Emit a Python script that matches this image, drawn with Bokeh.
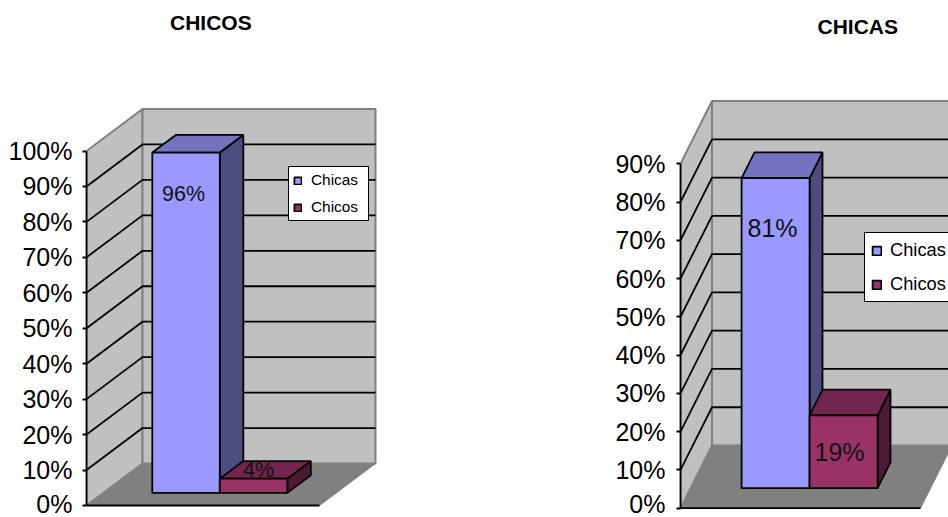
from bokeh.embed import file_html
from bokeh.resources import INLINE
from bokeh.layouts import row
from bokeh.plotting import figure
from bokeh.models import (ColumnDataSource, Range1d, LinearAxis, FixedTicker,
                          PrintfTickFormatter, Legend, LegendItem, Title)
from bokeh.core.properties import value

# ---- data -------------------------------------------------------------
series_names = ["Chicas", "Chicos"]
series_colors = ["#9999FF", "#993366"]
series_tops = ["#7373BF", "#73264D"]
series_sides = ["#4D4D80", "#4D1A33"]

left_title = "CHICOS"
left_values = [96, 4]
left_labels = ["96%", "4%"]
left_ticks = [0, 10, 20, 30, 40, 50, 60, 70, 80, 90, 100]

right_title = "CHICAS"
right_values = [81, 19]
right_labels = ["81%", "19%"]
right_ticks = [0, 10, 20, 30, 40, 50, 60, 70, 80, 90]

FONT = "Liberation Sans"
WALL = "#C0C0C0"
FLOOR = "#808080"
EDGE = "#808080"
LW = 1.8
FRAME_TOP = 42  # the row aligns both plot frames, so they share one top


def panel(title, values, labels, ticks, *, fig_w, fig_left, axis_x, zero_y, ppu,
          depth_dx, depth_dy, floor_w, bar_x0, bar_w, bar_d0, bar_d1,
          label_pos, title_x, title_standoff, legend_xy, legend_opts, tick_font, label_font,
          standoff, fig_h=517):
    """All pixel constants are page coordinates from the reference layout;
    x data units are pixels from the axis, y data units are percent."""
    page_bottom = fig_h
    frame_w = fig_left + fig_w - axis_x
    p = figure(width=fig_w, height=fig_h, output_backend="svg", toolbar_location=None,
               x_range=Range1d(0, frame_w),
               y_range=Range1d(-(page_bottom - zero_y) / ppu, (zero_y - FRAME_TOP) / ppu),
               x_axis_type=None, y_axis_type=None,
               min_border_left=int(axis_x - fig_left), min_border_right=0,
               min_border_bottom=0, min_border_top=FRAME_TOP,
               background_fill_color="white", border_fill_color="white",
               outline_line_color=None)
    p.grid.visible = False

    vmax = ticks[-1]
    dv = depth_dy / ppu  # depth rise expressed in axis units

    # floor, side wall, back wall
    p.patch([0, floor_w, floor_w + depth_dx, depth_dx], [0, 0, dv, dv],
            fill_color=FLOOR, line_color=FLOOR, line_width=1)
    p.patch([0, depth_dx, depth_dx, 0], [0, dv, vmax + dv, vmax],
            fill_color=WALL, line_color=EDGE, line_width=2)
    p.patch([depth_dx, depth_dx + floor_w, depth_dx + floor_w, depth_dx],
            [dv, dv, vmax + dv, vmax + dv], fill_color=WALL, line_color=EDGE, line_width=2)

    # grid lines on the walls
    inner = [t for t in ticks if 0 < t < vmax]
    p.multi_line([[0, depth_dx, depth_dx + floor_w] for _ in inner],
                 [[t, t + dv, t + dv] for t in inner], line_color="black", line_width=LW)

    # front edge of the floor
    p.line([0, floor_w], [0, 0], line_color="black", line_width=LW)

    # bars
    base = bar_d0 * depth_dy / ppu
    x0f = bar_d0 * depth_dx
    ddx = (bar_d1 - bar_d0) * depth_dx
    ddv = (bar_d1 - bar_d0) * depth_dy / ppu
    items = []
    for i, v in enumerate(values):
        l = bar_x0 + i * bar_w + x0f
        r = l + bar_w
        top = base + v
        p.patch([r, r + ddx, r + ddx, r], [base, base + ddv, top + ddv, top],
                fill_color=series_sides[i], line_color="black", line_width=LW)
        p.patch([l, l + ddx, r + ddx, r], [top, top + ddv, top + ddv, top],
                fill_color=series_tops[i], line_color="black", line_width=LW)
        rr = p.quad(left=[l], right=[r], bottom=[base], top=[top],
                    fill_color=series_colors[i], line_color="black", line_width=LW)
        items.append(LegendItem(label=series_names[i], renderers=[rr]))

    # value labels
    src = ColumnDataSource(dict(
        x=[lp[0] - axis_x for lp in label_pos],
        y=[(zero_y - lp[1]) / ppu for lp in label_pos],
        t=labels))
    p.text("x", "y", text="t", source=src, text_align="center", text_baseline="middle",
           text_font=value(FONT), text_font_size=label_font, text_color="#111111")

    # value axis
    ax = LinearAxis(ticker=FixedTicker(ticks=ticks), formatter=PrintfTickFormatter(format="%d%%"),
                    bounds=(0, vmax))
    ax.axis_line_color = "black"
    ax.axis_line_width = LW
    ax.major_tick_line_color = "black"
    ax.major_tick_line_width = LW
    ax.major_tick_out = 4
    ax.major_tick_in = 0
    ax.minor_tick_line_color = None
    ax.major_label_standoff = standoff
    ax.major_label_text_font = FONT
    ax.major_label_text_font_size = tick_font
    ax.major_label_text_color = "black"
    p.add_layout(ax, "left")

    # legend
    lg = Legend(items=items, location=(legend_xy[0] - axis_x, page_bottom - legend_xy[1]),
                orientation="vertical", background_fill_color="white", background_fill_alpha=1,
                border_line_color="black", border_line_width=LW, border_line_alpha=1,
                label_text_font=FONT, label_text_color="black", margin=0, **legend_opts)
    p.add_layout(lg, "center")

    # title
    p.title = Title(text=title, align="left", offset=title_x - axis_x, standoff=title_standoff,
                    text_font=FONT, text_font_size="21px", text_font_style="bold",
                    text_color="black")
    return p


left = panel(left_title, left_values, left_labels, left_ticks,
             fig_w=480, fig_left=0, axis_x=86, zero_y=505, ppu=3.545,
             depth_dx=56, depth_dy=42, floor_w=233, bar_x0=49, bar_w=67.5, bar_d0=0.3, bar_d1=0.72,
             label_pos=[(183, 193), (258, 469)], title_x=169.5, title_standoff=17,
             legend_xy=(288, 221),
             legend_opts=dict(label_text_font_size="15.4px", glyph_width=9, glyph_height=9,
                              label_standoff=9, padding=4, spacing=9, label_width=53),
             tick_font="25px", label_font="21.5px", standoff=10)

right = panel(right_title, right_values, right_labels, right_ticks,
              fig_w=468, fig_left=480, axis_x=680, zero_y=507.7, ppu=3.827,
              depth_dx=31.5, depth_dy=62.7, floor_w=240, bar_x0=51, bar_w=68, bar_d0=0.32, bar_d1=0.73,
              label_pos=[(772, 227), (839, 451)], title_x=817, title_standoff=10,
              legend_xy=(864, 302),
              legend_opts=dict(label_text_font_size="18.3px", glyph_width=11, glyph_height=11,
                               label_standoff=8, padding=6, spacing=12, label_width=70),
              tick_font="25px", label_font="25px", standoff=11)

layout = row(left, right)
open("out.html", "w").write(file_html(layout, INLINE))
